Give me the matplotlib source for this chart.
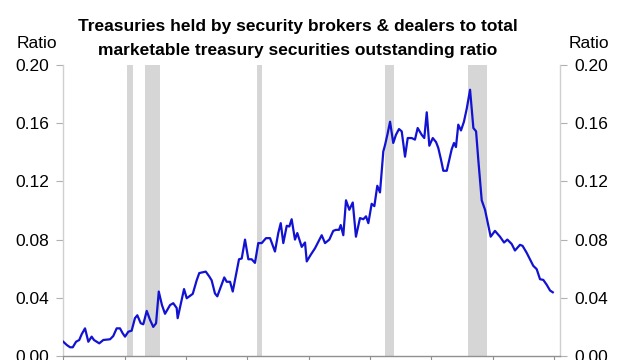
import matplotlib
matplotlib.use("Agg")
import matplotlib.pyplot as plt

# ---- data ----
years = [1975.00, 1975.28, 1975.55, 1975.77, 1976.04, 1976.30, 1976.50, 1976.77,
         1977.04, 1977.31, 1977.50, 1977.93, 1978.26, 1978.81, 1979.07, 1979.35,
         1979.62, 1979.84, 1980.03, 1980.30, 1980.57, 1980.84, 1981.03, 1981.31,
         1981.52, 1981.80, 1982.07, 1982.33, 1982.56, 1982.78, 1983.04, 1983.29,
         1983.70, 1983.96, 1984.24, 1984.32, 1984.84, 1985.06, 1985.55, 1985.87,
         1986.08, 1986.61, 1986.90, 1987.09, 1987.36, 1987.55, 1988.12, 1988.32,
         1988.59, 1988.81, 1989.32, 1989.54, 1989.81, 1990.08, 1990.35, 1990.62,
         1990.89, 1991.17, 1991.52, 1991.85, 1992.25, 1992.52, 1992.72, 1992.93,
         1993.21, 1993.42, 1993.61, 1993.88, 1994.07, 1994.43, 1994.70, 1994.84,
         1995.16, 1995.51, 1996.06, 1996.33, 1996.68, 1997.00, 1997.22, 1997.47,
         1997.61, 1997.82, 1998.04, 1998.31, 1998.59, 1998.85, 1999.18, 1999.45,
         1999.67, 1999.86, 2000.13, 2000.35, 2000.59, 2000.81, 2001.08, 2001.22,
         2001.41, 2001.63, 2001.89, 2002.11, 2002.36, 2002.58, 2002.85, 2003.07,
         2003.39, 2003.66, 2003.88, 2004.21, 2004.42, 2004.62, 2004.83, 2005.11,
         2005.38, 2005.56, 2005.78, 2005.97, 2006.25, 2006.46, 2006.65, 2006.84,
         2007.00, 2007.19, 2007.41, 2007.65, 2007.88, 2008.15, 2008.42, 2008.64,
         2008.82, 2009.10, 2009.37, 2009.83, 2010.18, 2010.59, 2010.92, 2011.19,
         2011.54, 2011.81, 2012.22, 2012.43, 2012.76, 2013.03, 2013.30, 2013.58,
         2013.85, 2014.12, 2014.40, 2014.67, 2014.89]

ratio = [0.0098, 0.0076, 0.0060, 0.0060, 0.0098, 0.0110, 0.0150, 0.0190,
         0.0098, 0.0133, 0.0110, 0.0087, 0.0110, 0.0115, 0.0137, 0.0190,
         0.0190, 0.0156, 0.0133, 0.0167, 0.0174, 0.0260, 0.0280, 0.0225,
         0.0218, 0.0310, 0.0248, 0.0200, 0.0225, 0.0443, 0.0350, 0.0290,
         0.0350, 0.0363, 0.0330, 0.0260, 0.0460, 0.0397, 0.0427, 0.0520,
         0.0570, 0.0580, 0.0546, 0.0520, 0.0430, 0.0410, 0.0540, 0.0510,
         0.0510, 0.0443, 0.0665, 0.0670, 0.0800, 0.0665, 0.0665, 0.0640,
         0.0776, 0.0776, 0.0810, 0.0810, 0.0718, 0.0845, 0.0913, 0.0776,
         0.0895, 0.0890, 0.0940, 0.0800, 0.0845, 0.0750, 0.0780, 0.0650,
         0.0695, 0.0740, 0.0830, 0.0776, 0.0800, 0.0860, 0.0867, 0.0867,
         0.0900, 0.0830, 0.1070, 0.1005, 0.1055, 0.0820, 0.0948, 0.0940,
         0.0960, 0.0913, 0.1046, 0.1030, 0.1170, 0.1124, 0.1406, 0.1450,
         0.1520, 0.1610, 0.1464, 0.1520, 0.1560, 0.1544, 0.1370, 0.1498,
         0.1498, 0.1487, 0.1567, 0.1520, 0.1498, 0.1675, 0.1445, 0.1498,
         0.1470, 0.1430, 0.1350, 0.1273, 0.1273, 0.1350, 0.1420, 0.1464,
         0.1436, 0.1590, 0.1550, 0.1610, 0.1700, 0.1830, 0.1567, 0.1544,
         0.1350, 0.1070, 0.1005, 0.0820, 0.0860, 0.0820, 0.0780, 0.0800,
         0.0770, 0.0725, 0.0764, 0.0757, 0.0710, 0.0665, 0.0620, 0.0597,
         0.0528, 0.0523, 0.0489, 0.0450, 0.0438]

recession_start = [1980.17, 1981.68, 1990.76, 2001.22, 2008.01]
recession_end = [1980.71, 1982.88, 1991.17, 2001.98, 2009.51]

y_ticks = [0.00, 0.04, 0.08, 0.12, 0.16, 0.20]
x_ticks = [1975, 1980, 1985, 1990, 1995, 2000, 2005, 2010, 2015]

title_lines = ["Treasuries held by security brokers & dealers to total",
               "marketable treasury securities outstanding ratio"]

plt.rcParams["font.family"] = ["Liberation Sans", "DejaVu Sans"]

fig = plt.figure(figsize=(6.4, 3.6), dpi=100)
fig.patch.set_facecolor("white")
ax = fig.add_axes([63.3 / 640, 4 / 360, (560 - 63.3) / 640, (356 - 65) / 360])

for s, e in zip(recession_start, recession_end):
    ax.axvspan(s, e, color="#d6d6d6", lw=0, zorder=1)

ax.plot(years, ratio, color="#1212d2", lw=1.6, zorder=3)

ax.set_xlim(1975, 2015.48)
ax.set_ylim(0, 0.20)
ax.set_yticks(y_ticks)
ax.set_yticklabels([f"{v:.2f}" for v in y_ticks])
ax.set_xticks(x_ticks)
ax.set_xticklabels([])

ax.tick_params(axis="y", which="both", direction="out", length=5, width=0.8,
               color="#b0b0b0", labelsize=12.5, pad=5,
               left=True, right=True, labelleft=True, labelright=True)
ax.tick_params(axis="x", direction="out", length=5, width=0.8, color="#909090")

for side in ["left", "right"]:
    ax.spines[side].set_color("#d0d0d0")
    ax.spines[side].set_linewidth(1.0)
ax.spines["bottom"].set_color("#909090")
ax.spines["bottom"].set_linewidth(1.0)
ax.spines["top"].set_visible(False)

fig.text(16.4 / 640, 1 - 44 / 360, "Ratio", ha="left", va="center", fontsize=12.5)
fig.text(609 / 640, 1 - 44 / 360, "Ratio", ha="right", va="center", fontsize=12.5)

for line, yc in zip(title_lines, [27, 50]):
    fig.text(297.5 / 640, 1 - yc / 360, line, ha="center", va="center",
             fontsize=12.5, fontweight="bold")

fig.savefig("out.png", dpi=100, facecolor="white")
